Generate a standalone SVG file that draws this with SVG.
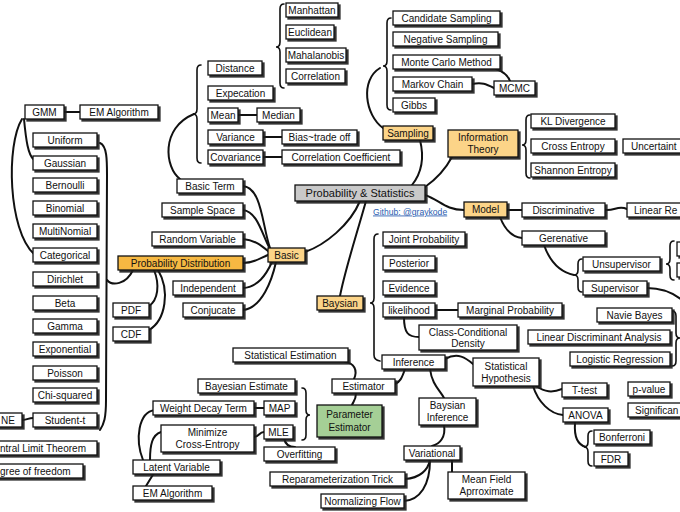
<svg xmlns="http://www.w3.org/2000/svg" width="680" height="512" viewBox="0 0 680 512">
<defs>
<filter id="sh" x="-10%" y="-20%" width="130%" height="160%">
<feDropShadow dx="2" dy="2" stdDeviation="0.5" flood-color="#1a1a1a" flood-opacity="0.9"/>
</filter>
</defs>
<style>
.node rect{fill:#fff;stroke:#111;stroke-width:1.3;filter:url(#sh)}
.node text{font-family:"Liberation Sans",Arial,sans-serif;font-size:10px;fill:#111;text-anchor:middle}
.node text.st{text-anchor:start}
.or rect{fill:#fcd488}
.or2 rect{fill:#f6b843}
.gr rect{fill:#c9c9c9}
.gn rect{fill:#a5cf96}
.hub text{font-size:11px}
#connectors path{fill:none;stroke:#111;stroke-width:2;stroke-linecap:round}
#connectors path.br{stroke-width:1.6}
.link{font-family:"Liberation Sans",Arial,sans-serif;font-size:8.6px;fill:#2a5db0;text-decoration:underline}
</style>
<rect width="680" height="512" fill="#fff"/>
<g id="connectors">
<path d="M360,201 C350,225 325,245 305,252"/>
<path d="M366,201 C355,240 345,270 340,296"/>
<path d="M420,140 C425,160 420,175 412,185"/>
<path d="M452,157 C445,170 435,180 425,187"/>
<path d="M425,195 C440,200 445,210 464,210"/>
<path d="M383,128 C365,115 360,80 380,68"/>
<path class="br" d="M391,18 Q387,18 387,23 L387,61 Q387,66 383,66 Q387,66 387,71 L387,105 Q387,110 391,110"/>
<path d="M496,69 C505,72 508,76 510,81"/>
<path d="M472,84 C482,82 486,84 494,88"/>
<path d="M243,186 C262,188 262,225 270,248"/>
<path d="M243,210 C258,212 262,235 270,249"/>
<path d="M243,239 C255,240 262,246 268,251"/>
<path d="M243,263 C255,263 260,258 268,255"/>
<path d="M243,288 C258,287 266,275 272,262"/>
<path d="M243,310 C262,308 272,280 276,262"/>
<path d="M180,179 C165,168 160,128 194,114"/>
<path class="br" d="M201,65 Q197,65 197,70 L197,109 Q197,114 193,114 Q197,114 197,119 L197,158 Q197,163 201,163"/>
<path class="br" d="M284,4 Q280,4 280,9 L280,42 Q280,47 276,47 Q280,47 280,52 L280,83 Q280,88 284,88"/>
<path d="M238,115 L257,115"/>
<path d="M263,137 L282,137"/>
<path d="M263,157 L282,157"/>
<path d="M64,112 L80,112"/>
<path d="M24,119 C26,140 28,155 34,160"/>
<path d="M22,119 C6,145 8,230 34,254"/>
<path d="M100,143 C107,146 107,160 107,175 L106,400 C106,418 104,424 100,430"/>
<path d="M107,280 C112,286 126,285 133,270"/>
<path d="M154,270 C160,285 158,300 149,306"/>
<path d="M158,270 C170,290 166,320 149,330"/>
<path d="M22,420 C28,420 28,418 33,418"/>
<path class="br" d="M378,234 Q374,234 374,239 L374,298 Q374,303 370,303 Q374,303 374,308 L374,355 Q374,360 380,361"/>
<path d="M435,310 L458,310"/>
<path d="M404,317 C404,333 408,337 419,337"/>
<path d="M445,359 C458,352 466,358 473,364"/>
<path d="M405,369 C402,378 400,382 395,384"/>
<path d="M430,369 C432,385 440,390 444,398"/>
<path d="M536,386 C545,392 552,393 562,389"/>
<path d="M533,386 C538,402 550,414 563,415"/>
<path d="M575,423 C574,437 578,445 586,447"/>
<path class="br" d="M592,431 Q588,431 588,436 L588,442 Q588,447 584,447 Q588,447 588,452 L588,461 Q588,466 592,466"/>
<path d="M444,425 C446,437 440,444 432,446"/>
<path d="M452,460 L452,472"/>
<path d="M430,460 C428,470 420,478 405,479"/>
<path d="M430,460 C430,485 420,500 404,501"/>
<path d="M354,379 C358,370 354,363 345,362"/>
<path d="M356,393 C356,400 353,402 352,405"/>
<path class="br" d="M302,388 Q306,388 306,393 L306,410 Q306,415 310,415 Q306,415 306,420 L306,435 Q306,440 302,440"/>
<path d="M254,408 L264,408"/>
<path d="M254,437 C259,437 259,432 264,432"/>
<path d="M284,438 C285,444 289,447 295,447"/>
<path d="M143,460 C135,440 138,412 155,410"/>
<path d="M150,460 C150,445 152,435 161,432"/>
<path d="M154,473 L146,486"/>
<path d="M507,210 L522,210"/>
<path d="M500,217 C505,230 512,237 522,238"/>
<path d="M605,210 C615,211 618,205 627,209"/>
<path d="M544,245 C550,262 560,272 574,275"/>
<path class="br" d="M582,259 Q578,259 578,264 L578,270 Q578,275 574,275 Q578,275 578,280 L578,287 Q578,292 582,292"/>
<path class="br" d="M674,241 Q670,241 670,246 L670,259 Q670,264 666,264 Q670,264 670,269 L670,275 Q670,280 674,280"/>
<path d="M647,288 C662,288 672,292 682,300"/>
<path class="br" d="M672,311 Q676,311 676,316 L676,333 Q676,338 680,338 Q676,338 676,343 L676,361 Q676,366 672,366"/>
<path class="br" d="M530,115 Q526,115 526,120 L526,140 Q526,145 522,145 Q526,145 526,150 L526,173 Q526,178 530,178"/>
</g>
<g id="n-manhattan" class="node"><rect x="286" y="3" width="52" height="14"/><text x="312" y="13.5">Manhattan</text></g>
<g id="n-euclidean" class="node"><rect x="286" y="25" width="48" height="14"/><text x="310" y="35.5">Euclidean</text></g>
<g id="n-mahalanobis" class="node"><rect x="286" y="48" width="60" height="14"/><text x="316" y="58.5">Mahalanobis</text></g>
<g id="n-correlation" class="node"><rect x="286" y="69" width="59" height="14"/><text x="315.5" y="79.5">Correlation</text></g>
<g id="n-distance" class="node"><rect x="208" y="61" width="54" height="14"/><text x="235" y="71.5">Distance</text></g>
<g id="n-expecation" class="node"><rect x="208" y="86" width="65" height="14"/><text x="240.5" y="96.5">Expecation</text></g>
<g id="n-mean" class="node"><rect x="208" y="108" width="30" height="14"/><text x="223" y="118.5">Mean</text></g>
<g id="n-median" class="node"><rect x="257" y="108" width="43" height="14"/><text x="278.5" y="118.5">Median</text></g>
<g id="n-variance" class="node"><rect x="208" y="130" width="55" height="14"/><text x="235.5" y="140.5">Variance</text></g>
<g id="n-bias" class="node"><rect x="282" y="130" width="75" height="14"/><text x="319.5" y="140.5">Bias~trade off</text></g>
<g id="n-covariance" class="node"><rect x="208" y="150" width="55" height="14"/><text x="235.5" y="160.5">Covariance</text></g>
<g id="n-corrcoef" class="node"><rect x="282" y="150" width="118" height="14"/><text x="341" y="160.5">Correlation Coefficient</text></g>
<g id="n-gmm" class="node"><rect x="25" y="105" width="39" height="14"/><text x="44.5" y="115.5">GMM</text></g>
<g id="n-em-top" class="node"><rect x="80" y="105" width="78" height="14"/><text x="119" y="115.5">EM Algorithm</text></g>
<g id="n-uniform" class="node"><rect x="33" y="133" width="64" height="14"/><text x="65" y="143.5">Uniform</text></g>
<g id="n-gaussian" class="node"><rect x="33" y="156" width="64" height="14"/><text x="65" y="166.5">Gaussian</text></g>
<g id="n-bernoulli" class="node"><rect x="33" y="178" width="64" height="14"/><text x="65" y="188.5">Bernoulli</text></g>
<g id="n-binomial" class="node"><rect x="33" y="201" width="64" height="14"/><text x="65" y="211.5">Binomial</text></g>
<g id="n-multinomial" class="node"><rect x="33" y="224" width="64" height="14"/><text x="65" y="234.5">MultiNomial</text></g>
<g id="n-categorical" class="node"><rect x="33" y="248" width="64" height="14"/><text x="65" y="258.5">Categorical</text></g>
<g id="n-dirichlet" class="node"><rect x="33" y="272" width="64" height="14"/><text x="65" y="282.5">Dirichlet</text></g>
<g id="n-beta" class="node"><rect x="33" y="296" width="64" height="14"/><text x="65" y="306.5">Beta</text></g>
<g id="n-gamma" class="node"><rect x="33" y="319" width="64" height="14"/><text x="65" y="329.5">Gamma</text></g>
<g id="n-exponential" class="node"><rect x="33" y="342" width="64" height="14"/><text x="65" y="352.5">Exponential</text></g>
<g id="n-poisson" class="node"><rect x="33" y="366" width="64" height="14"/><text x="65" y="376.5">Poisson</text></g>
<g id="n-chisquared" class="node"><rect x="33" y="388" width="64" height="14"/><text x="65" y="398.5">Chi-squared</text></g>
<g id="n-studentt" class="node"><rect x="33" y="413" width="64" height="14"/><text x="65" y="423.5">Student-t</text></g>
<g id="n-ne" class="node"><rect x="-30" y="413" width="52" height="14"/><text class="st" x="1" y="423.5">NE</text></g>
<g id="n-clt" class="node"><rect x="-20" y="441" width="117" height="14"/><text class="st" x="0" y="451.5">ntral Limit Theorem</text></g>
<g id="n-dof" class="node"><rect x="-20" y="464" width="103" height="14"/><text class="st" x="0" y="474.5">gree of freedom</text></g>
<g id="n-probdist" class="node or2"><rect x="118" y="256" width="125" height="14"/><text x="180.5" y="266.5">Probability Distribution</text></g>
<g id="n-pdf" class="node"><rect x="113" y="303" width="36" height="14"/><text x="131" y="313.5">PDF</text></g>
<g id="n-cdf" class="node"><rect x="113" y="327" width="36" height="14"/><text x="131" y="337.5">CDF</text></g>
<g id="n-basicterm" class="node"><rect x="177" y="179" width="66" height="14"/><text x="210" y="189.5">Basic Term</text></g>
<g id="n-samplespace" class="node"><rect x="162" y="203" width="81" height="14"/><text x="202.5" y="213.5">Sample Space</text></g>
<g id="n-randomvar" class="node"><rect x="152" y="232" width="91" height="14"/><text x="197.5" y="242.5">Random Variable</text></g>
<g id="n-independent" class="node"><rect x="173" y="281" width="70" height="14"/><text x="208" y="291.5">Independent</text></g>
<g id="n-conjucate" class="node"><rect x="183" y="303" width="60" height="14"/><text x="213" y="313.5">Conjucate</text></g>
<g id="n-basic" class="node or"><rect x="268" y="248" width="37" height="14"/><text x="286.5" y="258.5">Basic</text></g>
<g id="n-hub" class="node gr hub"><rect x="295" y="185" width="130" height="16"/><text x="360" y="197">Probability &amp; Statistics</text></g>
<text class="link" x="373" y="214.5">Github: @graykode</text>
<g id="n-baysian" class="node or"><rect x="317" y="296" width="46" height="14"/><text x="340" y="306.5">Baysian</text></g>
<g id="n-candidate" class="node"><rect x="393" y="11" width="107" height="14"/><text x="446.5" y="21.5">Candidate Sampling</text></g>
<g id="n-negative" class="node"><rect x="393" y="32" width="105" height="14"/><text x="445.5" y="42.5">Negative Sampling</text></g>
<g id="n-montecarlo" class="node"><rect x="393" y="55" width="107" height="14"/><text x="446.5" y="65.5">Monte Carlo Method</text></g>
<g id="n-markov" class="node"><rect x="393" y="77" width="79" height="14"/><text x="432.5" y="87.5">Markov Chain</text></g>
<g id="n-mcmc" class="node"><rect x="494" y="81" width="41" height="14"/><text x="514.5" y="91.5">MCMC</text></g>
<g id="n-gibbs" class="node"><rect x="393" y="98" width="42" height="14"/><text x="414" y="108.5">Gibbs</text></g>
<g id="n-sampling" class="node or"><rect x="383" y="126" width="50" height="14"/><text x="408" y="136.5">Sampling</text></g>
<g id="n-infotheory" class="node or"><rect x="448" y="130" width="70" height="27"/><text x="483" y="141">Information</text><text x="483" y="153">Theory</text></g>
<g id="n-kl" class="node"><rect x="531" y="114" width="84" height="14"/><text x="573" y="124.5">KL Divergence</text></g>
<g id="n-crossentropy" class="node"><rect x="531" y="139" width="84" height="14"/><text x="573" y="149.5">Cross Entropy</text></g>
<g id="n-shannon" class="node"><rect x="531" y="163" width="84" height="14"/><text x="573" y="173.5">Shannon Entropy</text></g>
<g id="n-uncertainty" class="node"><rect x="623" y="139" width="70" height="14"/><text class="st" x="631" y="149.5">Uncertaint</text></g>
<g id="n-model" class="node or"><rect x="464" y="202" width="43" height="15"/><text x="485.5" y="213">Model</text></g>
<g id="n-discriminative" class="node"><rect x="522" y="203" width="83" height="14"/><text x="563.5" y="213.5">Discriminative</text></g>
<g id="n-linearre" class="node"><rect x="627" y="203" width="70" height="14"/><text class="st" x="634" y="213.5">Linear Re</text></g>
<g id="n-gerenative" class="node"><rect x="522" y="231" width="83" height="14"/><text x="563.5" y="241.5">Gerenative</text></g>
<g id="n-unsupervisor" class="node"><rect x="583" y="257" width="77" height="14"/><text x="621.5" y="267.5">Unsupervisor</text></g>
<g id="n-supervisor" class="node"><rect x="583" y="281" width="64" height="14"/><text x="615" y="291.5">Supervisor</text></g>
<g id="n-unsup-a" class="node"><rect x="677" y="242" width="20" height="14"/></g>
<g id="n-unsup-b" class="node"><rect x="677" y="263" width="20" height="14"/></g>
<g id="n-joint" class="node"><rect x="383" y="232" width="82" height="14"/><text x="424" y="242.5">Joint Probability</text></g>
<g id="n-posterior" class="node"><rect x="383" y="256" width="52" height="14"/><text x="409" y="266.5">Posterior</text></g>
<g id="n-evidence" class="node"><rect x="383" y="281" width="52" height="14"/><text x="409" y="291.5">Evidence</text></g>
<g id="n-likelihood" class="node"><rect x="383" y="303" width="52" height="14"/><text x="409" y="313.5">likelihood</text></g>
<g id="n-marginal" class="node"><rect x="458" y="303" width="104" height="14"/><text x="510" y="313.5">Marginal Probability</text></g>
<g id="n-classcond" class="node"><rect x="419" y="325" width="98" height="25"/><text x="468" y="335.5">Class-Conditional</text><text x="468" y="347">Density</text></g>
<g id="n-inference" class="node"><rect x="382" y="355" width="63" height="14"/><text x="413.5" y="365.5">Inference</text></g>
<g id="n-stathyp" class="node"><rect x="473" y="358" width="66" height="28"/><text x="506" y="369.5">Statistical</text><text x="506" y="381.5">Hypothesis</text></g>
<g id="n-navie" class="node"><rect x="597" y="308" width="75" height="14"/><text x="634.5" y="318.5">Navie Bayes</text></g>
<g id="n-lda" class="node"><rect x="528" y="330" width="142" height="14"/><text x="599" y="340.5">Linear Discriminant Analysis</text></g>
<g id="n-logistic" class="node"><rect x="570" y="352" width="100" height="14"/><text x="620" y="362.5">Logistic Regression</text></g>
<g id="n-ttest" class="node"><rect x="562" y="383" width="45" height="14"/><text x="584.5" y="393.5">T-test</text></g>
<g id="n-anova" class="node"><rect x="563" y="408" width="45" height="14"/><text x="585.5" y="418.5">ANOVA</text></g>
<g id="n-pvalue" class="node"><rect x="628" y="382" width="42" height="14"/><text x="649" y="392.5">p-value</text></g>
<g id="n-significance" class="node"><rect x="628" y="403" width="60" height="14"/><text class="st" x="635" y="413.5">Significan</text></g>
<g id="n-bonferroni" class="node"><rect x="594" y="430" width="56" height="14"/><text x="622" y="440.5">Bonferroni</text></g>
<g id="n-fdr" class="node"><rect x="594" y="452" width="34" height="14"/><text x="611" y="462.5">FDR</text></g>
<g id="n-meanfield" class="node"><rect x="448" y="472" width="77" height="27"/><text x="486.5" y="483">Mean Field</text><text x="486.5" y="495">Aprroximate</text></g>
<g id="n-bayinference" class="node"><rect x="419" y="398" width="57" height="27"/><text x="447.5" y="409">Baysian</text><text x="447.5" y="421">Inference</text></g>
<g id="n-variational" class="node"><rect x="404" y="446" width="56" height="14"/><text x="432" y="456.5">Variational</text></g>
<g id="n-reparam" class="node"><rect x="270" y="472" width="135" height="14"/><text x="337.5" y="482.5">Reparameterization Trick</text></g>
<g id="n-normflow" class="node"><rect x="321" y="494" width="83" height="14"/><text x="362.5" y="504.5">Normalizing Flow</text></g>
<g id="n-statest" class="node"><rect x="233" y="348" width="115" height="14"/><text x="290.5" y="358.5">Statistical Estimation</text></g>
<g id="n-estimator" class="node"><rect x="332" y="379" width="63" height="14"/><text x="363.5" y="389.5">Estimator</text></g>
<g id="n-paramest" class="node gn"><rect x="317" y="405" width="65" height="32"/><text x="349.5" y="418">Parameter</text><text x="349.5" y="430.5">Estimator</text></g>
<g id="n-bayesest" class="node"><rect x="198" y="379" width="97" height="14"/><text x="246.5" y="389.5">Bayesian Estimate</text></g>
<g id="n-wdt" class="node"><rect x="153" y="401" width="101" height="14"/><text x="203.5" y="411.5">Weight Decay Term</text></g>
<g id="n-map" class="node"><rect x="264" y="401" width="31" height="14"/><text x="279.5" y="411.5">MAP</text></g>
<g id="n-mince" class="node"><rect x="161" y="425" width="93" height="27"/><text x="207.5" y="436">Minimize</text><text x="207.5" y="448">Cross-Entropy</text></g>
<g id="n-mle" class="node"><rect x="264" y="425" width="29" height="14"/><text x="278.5" y="435.5">MLE</text></g>
<g id="n-overfitting" class="node"><rect x="264" y="447" width="71" height="14"/><text x="299.5" y="457.5">Overfitting</text></g>
<g id="n-latent" class="node"><rect x="133" y="460" width="87" height="14"/><text x="176.5" y="470.5">Latent Variable</text></g>
<g id="n-em-bottom" class="node"><rect x="133" y="486" width="79" height="14"/><text x="172.5" y="496.5">EM Algorithm</text></g>
</svg>
